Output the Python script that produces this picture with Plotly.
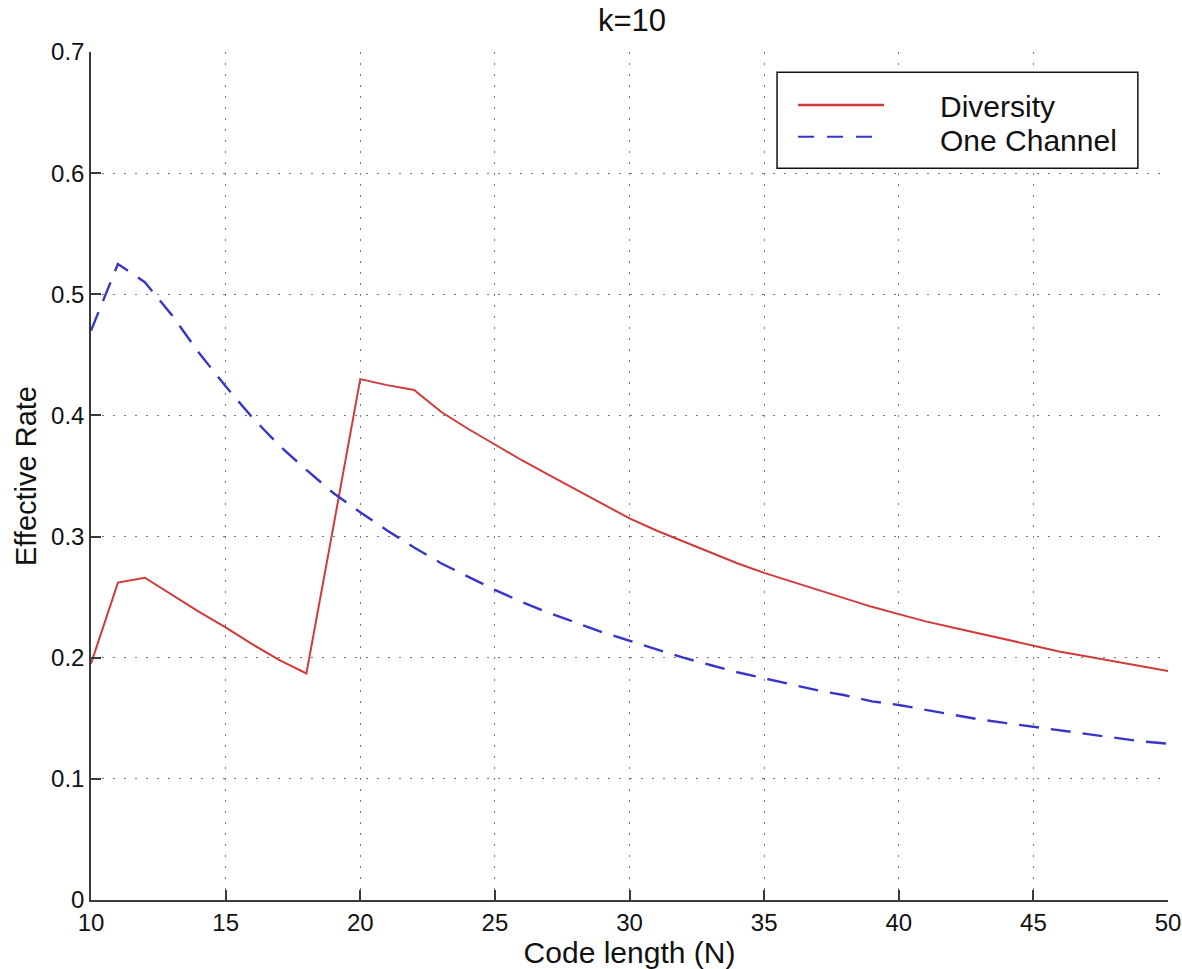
import plotly.graph_objects as go

N = list(range(10, 51))
diversity = [0.195, 0.262, 0.266, 0.252, 0.238, 0.225, 0.211, 0.198, 0.187, 0.308,
             0.430, 0.425, 0.421, 0.403, 0.389, 0.376, 0.363, 0.351, 0.339, 0.327,
             0.315, 0.305, 0.296, 0.287, 0.278, 0.270, 0.263, 0.256, 0.249, 0.242,
             0.236, 0.230, 0.225, 0.220, 0.215, 0.210, 0.205, 0.201, 0.197, 0.193,
             0.189]
one_channel = [0.470, 0.525, 0.510, 0.483, 0.452, 0.424, 0.398, 0.375, 0.355, 0.336,
               0.320, 0.305, 0.291, 0.278, 0.267, 0.256, 0.246, 0.237, 0.229, 0.221,
               0.214, 0.207, 0.200, 0.194, 0.188, 0.183, 0.178, 0.173, 0.169, 0.164,
               0.161, 0.157, 0.153, 0.149, 0.146, 0.143, 0.140, 0.137, 0.134, 0.131,
               0.129]
series_names = ["Diversity", "One Channel"]
x_ticks = [10, 15, 20, 25, 30, 35, 40, 45, 50]
y_ticks = [0, 0.1, 0.2, 0.3, 0.4, 0.5, 0.6, 0.7]

FONT = "Liberation Sans, Arial, Helvetica, sans-serif"
RED = "#d23a3a"
BLUE = "#3636c8"
BLUE_DASH = "20px,12px"

fig = go.Figure()
fig.add_trace(go.Scatter(x=N, y=diversity, mode="lines", name=series_names[0],
                         showlegend=False, line=dict(color=RED, width=2)))
fig.add_trace(go.Scatter(x=N, y=one_channel, mode="lines", name=series_names[1],
                         showlegend=False, line=dict(color=BLUE, width=2.4, dash=BLUE_DASH)))

axis_common = dict(
    showline=True, linecolor="#3a3a3a", linewidth=1.5,
    ticks="inside", ticklen=10, tickcolor="#3a3a3a", tickwidth=1.5,
    showgrid=True, gridcolor="#777777", griddash="2px,9px", gridwidth=1,
    zeroline=False, mirror=False, automargin=False,
    tickfont=dict(family=FONT, size=24, color="#111111"),
)

fig.update_xaxes(range=[10, 50], tickvals=x_ticks,
                 title=dict(text="Code length (N)", font=dict(family=FONT, size=30, color="#111111"), standoff=5),
                 **axis_common)
fig.update_yaxes(range=[0, 0.7], tickvals=y_ticks, ticktext=[str(v) for v in y_ticks],
                 title=dict(text="Effective Rate", font=dict(family=FONT, size=29, color="#111111"), standoff=6),
                 **axis_common)

# Legend box (drawn manually to match the original layout)
shapes = [
    dict(type="rect", xref="paper", yref="paper", x0=0.637, x1=0.972, y0=0.863, y1=0.976,
         line=dict(color="#111111", width=1.5), fillcolor="white", layer="above"),
    dict(type="line", xref="paper", yref="paper", x0=0.6565, x1=0.7363, y0=0.9375, y1=0.9375,
         line=dict(color=RED, width=2.5), layer="above"),
    dict(type="line", xref="paper", yref="paper", x0=0.6565, x1=0.7363, y0=0.900, y1=0.900,
         line=dict(color=BLUE, width=2, dash="16px,13px"), layer="above"),
]
annotations = [
    dict(text=series_names[0], xref="paper", yref="paper", x=0.7864, y=0.936,
         xanchor="left", yanchor="middle", showarrow=False,
         font=dict(family=FONT, size=30, color="#111111")),
    dict(text=series_names[1], xref="paper", yref="paper", x=0.7864, y=0.896,
         xanchor="left", yanchor="middle", showarrow=False,
         font=dict(family=FONT, size=30, color="#111111")),
]

fig.update_layout(
    width=1182, height=969,
    margin=dict(l=91, r=14, t=52, b=69),
    paper_bgcolor="white", plot_bgcolor="white",
    title=dict(text="k=10", x=632 / 1182, xanchor="center", y=1 - 20 / 969, yanchor="middle",
               font=dict(family=FONT, size=31, color="#111111")),
    shapes=shapes, annotations=annotations,
    showlegend=False,
)

fig.write_html("out.html", config={"displayModeBar": False},
               post_script="document.body.style.margin='0';")
